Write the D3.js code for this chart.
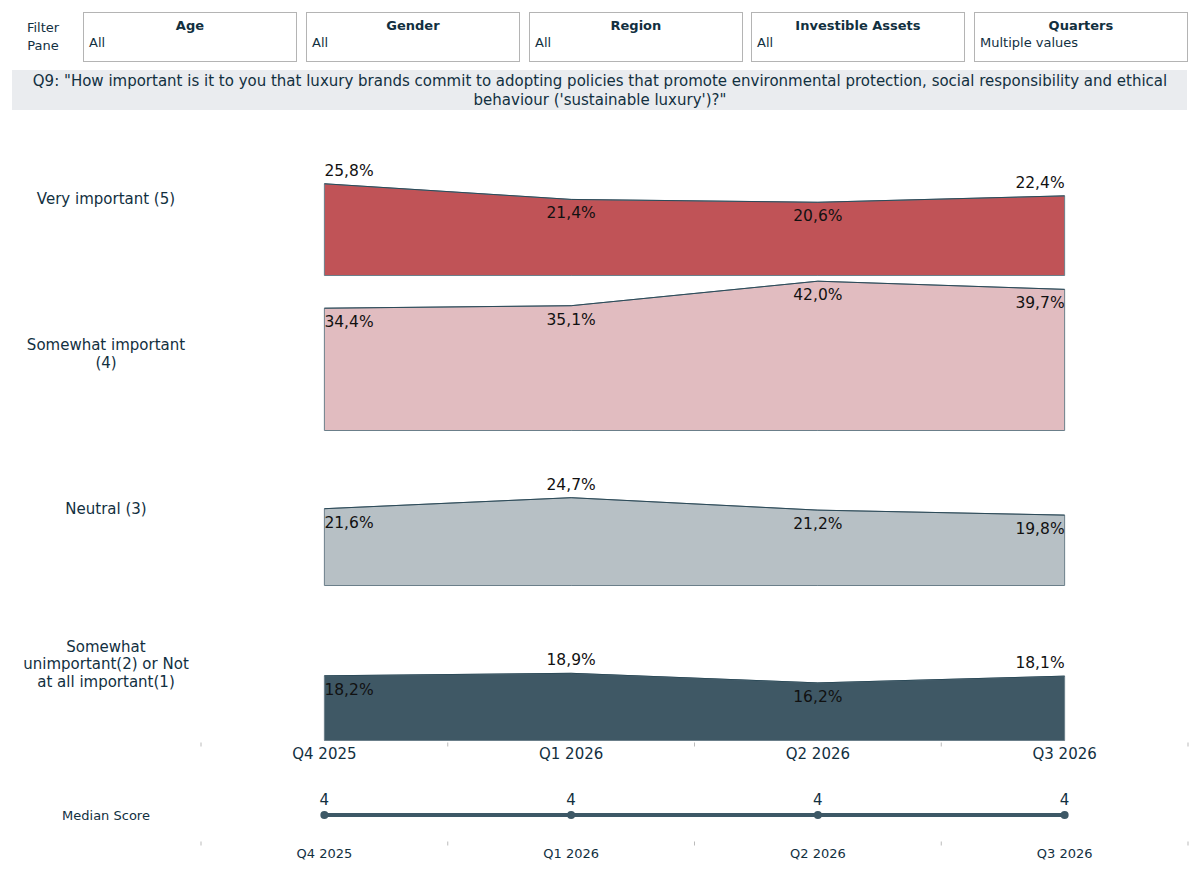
<!DOCTYPE html>
<html>
<head>
<meta charset="utf-8">
<script src="https://cdn.jsdelivr.net/npm/d3@7"></script>
<style>
  body { margin: 0; background: #fff; font-family: "DejaVu Sans", sans-serif; }
</style>
</head>
<body>
<div class="chart"></div>
<script>
// data
const quarters = ["Q4 2025", "Q1 2026", "Q2 2026", "Q3 2026"];
const answers = ["Very important (5)", "Somewhat important (4)", "Neutral (3)", "Somewhat unimportant(2) or Not at all important(1)"];
const veryImportant = [25.8, 21.4, 20.6, 22.4];
const somewhatImportant = [34.4, 35.1, 42.0, 39.7];
const neutral = [21.6, 24.7, 21.2, 19.8];
const unimportant = [18.2, 18.9, 16.2, 18.1];
const medianScore = [4, 4, 4, 4];
const filters = ["Age", "Gender", "Region", "Investible Assets", "Quarters"];
const filterValues = ["All", "All", "All", "All", "Multiple values"];

const series = [veryImportant, somewhatImportant, neutral, unimportant];
const colors = ["#c05357", "#e1bcc0", "#b7c0c5", "#3f5865"];
const textColor = "#12303f";

const width = 1199, height = 872;

const svg = d3.select(".chart").append("svg")
    .attr("width", width)
    .attr("height", height);

// filter pane
svg.append("text")
    .attr("x", 43).attr("y", 32)
    .attr("text-anchor", "middle")
    .attr("font-size", 13).attr("fill", textColor)
    .text("Filter");
svg.append("text")
    .attr("x", 43).attr("y", 50)
    .attr("text-anchor", "middle")
    .attr("font-size", 13).attr("fill", textColor)
    .text("Pane");

const boxScale = d3.scaleBand().domain(filters).range([83, 1188]).paddingInner(0.04);
const boxes = svg.append("g").selectAll("g")
    .data(filters)
    .join("g")
    .attr("transform", d => `translate(${Math.round(boxScale(d))},12)`);
boxes.append("rect")
    .attr("x", 0.5).attr("y", 0.5)
    .attr("width", Math.round(boxScale.bandwidth()) - 1).attr("height", 49)
    .attr("fill", "#fff").attr("stroke", "#b4b4b4");
boxes.append("text")
    .attr("x", boxScale.bandwidth() / 2).attr("y", 18)
    .attr("text-anchor", "middle")
    .attr("font-size", 13).attr("font-weight", "bold").attr("fill", textColor)
    .text(d => d);
boxes.append("text")
    .attr("x", 6).attr("y", 35)
    .attr("font-size", 13).attr("fill", textColor)
    .text((d, i) => filterValues[i]);

// question title
svg.append("rect")
    .attr("x", 12).attr("y", 70)
    .attr("width", 1175).attr("height", 40)
    .attr("fill", "#eaecef");
const titleLines = [
    "Q9: \"How important is it to you that luxury brands commit to adopting policies that promote environmental protection, social responsibility and ethical",
    "behaviour ('sustainable luxury')?\""
];
svg.append("g").selectAll("text")
    .data(titleLines)
    .join("text")
    .attr("x", 600)
    .attr("y", (d, i) => 86 + i * 19)
    .attr("text-anchor", "middle")
    .attr("font-size", 15).attr("fill", textColor)
    .text(d => d);

// scales
const x = d3.scaleBand().domain(quarters).range([201, 1188]);
const xc = d => x(d) + x.bandwidth() / 2;
const rows = d3.scaleBand().domain(answers).range([120.5, 740.5]);
const y = d3.scaleLinear().domain([0, 43.6]).range([rows.bandwidth(), 0]);

const area = d3.area()
    .x((d, i) => xc(quarters[i]))
    .y0(y(0))
    .y1(d => y(d));
const line = d3.line()
    .x((d, i) => xc(quarters[i]))
    .y(d => y(d));

const fmt = v => d3.format(".1f")(v).replace(".", ",") + "%";

answers.forEach((ans, r) => {
    const vals = series[r];
    const g = svg.append("g")
        .attr("transform", `translate(0,${rows(ans)})`);

    g.append("path")
        .datum(vals)
        .attr("d", area)
        .attr("fill", colors[r])
        .attr("stroke", "#6b7f8a")
        .attr("stroke-width", 1);

    g.append("path")
        .datum(vals)
        .attr("d", line)
        .attr("fill", "none")
        .attr("stroke", "#2c4a58")
        .attr("stroke-width", 1);

    // value labels: above at local peaks when they fit, otherwise below
    g.selectAll("text.val")
        .data(vals)
        .join("text")
        .attr("class", "val")
        .attr("x", (d, i) => xc(quarters[i]))
        .attr("y", (d, i) => {
            const peak = (i === 0 || d >= vals[i - 1]) && (i === vals.length - 1 || d >= vals[i + 1]);
            const above = peak && y(d) - 22 > 0;
            return above ? y(d) - 8 : y(d) + 19;
        })
        .attr("text-anchor", (d, i) => i === 0 ? "start" : i === vals.length - 1 ? "end" : "middle")
        .attr("font-size", 15.5)
        .attr("fill", "#111")
        .text(d => fmt(d));
});

// row labels
const rowLabelLines = [
    ["Very important (5)"],
    ["Somewhat important", "(4)"],
    ["Neutral (3)"],
    ["Somewhat", "unimportant(2) or Not", "at all important(1)"]
];
answers.forEach((ans, r) => {
    const lines = rowLabelLines[r];
    const cy = rows(ans) + rows.bandwidth() / 2;
    svg.append("g").selectAll("text")
        .data(lines)
        .join("text")
        .attr("x", 106)
        .attr("y", (d, i) => cy + 6 + (i - (lines.length - 1) / 2) * 17.5)
        .attr("text-anchor", "middle")
        .attr("font-size", 15)
        .attr("fill", textColor)
        .text(d => d);
});

// quarter axes (under the areas and under the median line)
const tickPos = d3.range(quarters.length + 1).map(i => 201 + i * x.bandwidth());
function quarterAxis(yPos, fontSize, labelY) {
    const g = svg.append("g");
    g.selectAll("line")
        .data(tickPos)
        .join("line")
        .attr("x1", d => d).attr("x2", d => d)
        .attr("y1", yPos).attr("y2", yPos + 4)
        .attr("stroke", "#bbb");
    g.selectAll("text")
        .data(quarters)
        .join("text")
        .attr("x", d => xc(d))
        .attr("y", labelY)
        .attr("text-anchor", "middle")
        .attr("font-size", fontSize)
        .attr("fill", textColor)
        .text(d => d);
}
quarterAxis(742.5, 15, 759);
quarterAxis(841.5, 13, 858);

// median score
const my = 815;
svg.append("text")
    .attr("x", 106).attr("y", my + 5)
    .attr("text-anchor", "middle")
    .attr("font-size", 13).attr("fill", textColor)
    .text("Median Score");

svg.append("path")
    .datum(medianScore)
    .attr("d", d3.line().x((d, i) => xc(quarters[i])).y(my))
    .attr("fill", "none")
    .attr("stroke", "#3d5866")
    .attr("stroke-width", 4);

svg.append("g").selectAll("circle")
    .data(medianScore)
    .join("circle")
    .attr("cx", (d, i) => xc(quarters[i]))
    .attr("cy", my)
    .attr("r", 4)
    .attr("fill", "#3d5866");

svg.append("g").selectAll("text")
    .data(medianScore)
    .join("text")
    .attr("x", (d, i) => xc(quarters[i]))
    .attr("y", my - 10)
    .attr("text-anchor", "middle")
    .attr("font-size", 15)
    .attr("fill", textColor)
    .text(d => d);
</script>
</body>
</html>
